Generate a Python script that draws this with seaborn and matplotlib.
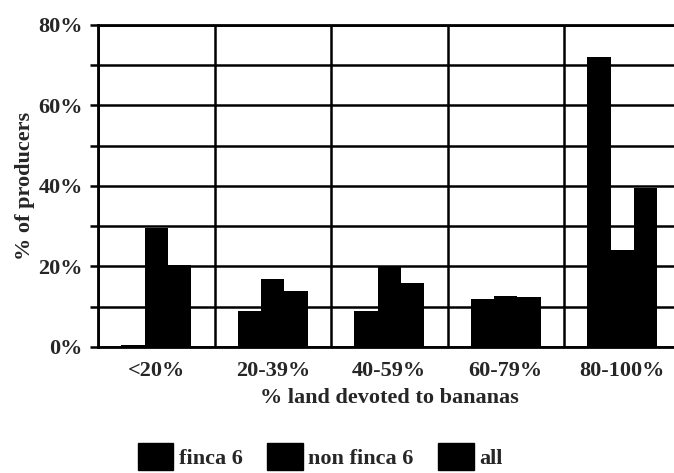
import matplotlib
matplotlib.use("Agg")
import matplotlib.pyplot as plt
import seaborn as sns
import pandas as pd
import numpy as np
from matplotlib.patches import Patch
from matplotlib.ticker import FixedLocator, MultipleLocator

# Share of producers by the fraction of their land planted with bananas
categories = ["<20%", "20-39%", "40-59%", "60-79%", "80-100%"]
series_names = ["finca 6", "non finca 6", "all"]
finca_6 = [0.5, 9.0, 9.0, 12.0, 72.0]
non_finca_6 = [29.5, 17.0, 20.0, 12.7, 24.0]
all_producers = [20.3, 14.0, 16.0, 12.4, 39.5]
y_ticks = [0, 20, 40, 60, 80]
y_tick_labels = ["0%", "20%", "40%", "60%", "80%"]

df = pd.DataFrame({
    "range": categories * 3,
    "group": np.repeat(series_names, len(categories)),
    "pct": finca_6 + non_finca_6 + all_producers,
})

sns.set_style("white")
plt.rcParams["font.family"] = ["Liberation Serif", "DejaVu Serif"]
plt.rcParams["font.weight"] = "bold"

fig = plt.figure(figsize=(6.74, 4.73), dpi=100)
ax = fig.add_axes([0.1454, 0.2664, 0.8643, 0.6808])

sns.barplot(data=df, x="range", y="pct", hue="group", order=categories,
            hue_order=series_names, palette=["black"] * 3, width=0.6,
            saturation=1, linewidth=0, legend=False, ax=ax)

ax.set_xlim(-0.5, len(categories) - 0.5)
ax.set_ylim(0, 80)
ax.set_axisbelow(True)

# y axis: labels every 20%, grid and ticks every 10%
ax.set_yticks(y_ticks)
ax.set_yticklabels(y_tick_labels)
ax.yaxis.set_minor_locator(MultipleLocator(10))
ax.grid(axis="y", which="both", color="black", linewidth=1.8)

# x axis: labels at category centres, separators between categories
ax.xaxis.set_minor_locator(FixedLocator(np.arange(-0.5, len(categories), 1.0)))
ax.grid(axis="x", which="minor", color="black", linewidth=1.8)
ax.tick_params(axis="x", which="major", length=0, pad=10, labelsize=16)
ax.tick_params(axis="x", which="minor", length=7, width=1.8, color="black", direction="out")
ax.tick_params(axis="y", which="both", length=6, width=1.8, color="black", direction="out", left=True)
ax.tick_params(axis="y", which="major", pad=5, labelsize=16)

for side in ["left", "bottom", "top", "right"]:
    ax.spines[side].set_color("black")
    ax.spines[side].set_linewidth(2.0)

ax.set_xlabel("% land devoted to bananas", fontsize=16, fontweight="bold", labelpad=5)
ax.set_ylabel("% of producers", fontsize=16, fontweight="bold", labelpad=2)

handles = [Patch(facecolor="black", edgecolor="black") for _ in series_names]
fig.legend(handles, series_names, loc="lower center", bbox_to_anchor=(0.475, -0.035),
           ncol=3, frameon=False, handlelength=1.6, handleheight=1.45,
           handletextpad=0.25, columnspacing=1.1,
           prop={"family": "Liberation Serif", "weight": "bold", "size": 16})

fig.savefig("out.png", dpi=100)
